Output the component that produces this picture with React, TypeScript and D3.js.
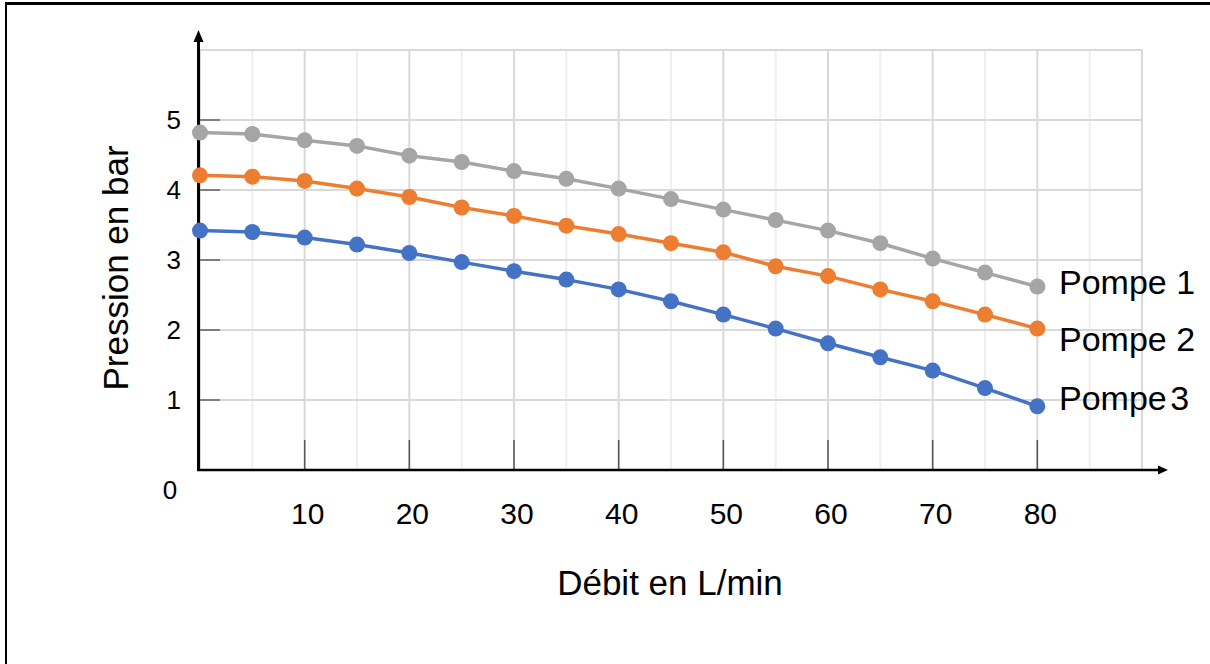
import { useRef, useEffect } from "react";
import * as d3 from "d3";

// Débit (L/min) for each measured point
const debits = [0, 5, 10, 15, 20, 25, 30, 35, 40, 45, 50, 55, 60, 65, 70, 75, 80];

// Pression (bar)
const pompe1 = [4.82, 4.8, 4.71, 4.63, 4.49, 4.4, 4.27, 4.16, 4.02, 3.87, 3.72, 3.57, 3.42, 3.24, 3.02, 2.82, 2.62];
const pompe2 = [4.21, 4.19, 4.13, 4.02, 3.9, 3.75, 3.63, 3.49, 3.37, 3.24, 3.11, 2.91, 2.77, 2.58, 2.41, 2.22, 2.02];
const pompe3 = [3.42, 3.4, 3.32, 3.22, 3.1, 2.97, 2.84, 2.72, 2.58, 2.41, 2.22, 2.02, 1.81, 1.61, 1.42, 1.17, 0.91];

const seriesNames = ["Pompe 1", "Pompe 2", "Pompe 3"];
const seriesColors = ["#a5a5a5", "#ed7d31", "#4472c4"];

const xTickLabels = [10, 20, 30, 40, 50, 60, 70, 80];
const yTickLabels = [1, 2, 3, 4, 5];
const xGridMajor = [0, 10, 20, 30, 40, 50, 60, 70, 80, 90];
const xGridMinor = [5, 15, 25, 35, 45, 55, 65, 75, 85];
const yGrid = [1, 2, 3, 4, 5, 6];

const W = 1210;
const H = 664;
const FONT = "'Liberation Sans', Arial, sans-serif";

export default function App() {
  const svgRef = useRef<SVGSVGElement>(null);

  useEffect(() => {
    if (!svgRef.current) return;
    const svg = d3.select(svgRef.current);
    svg.selectAll("*").remove();

    const x = d3.scaleLinear().domain([0, 90]).range([200, 1142]);
    const y = d3.scaleLinear().domain([0, 6]).range([470, 50]);

    // frame
    svg.append("line").attr("x1", 5).attr("x2", W).attr("y1", 3.5).attr("y2", 3.5)
      .attr("stroke", "#000").attr("stroke-width", 3);
    svg.append("line").attr("x1", 6).attr("x2", 6).attr("y1", 2).attr("y2", H)
      .attr("stroke", "#000").attr("stroke-width", 2);

    const g = svg.append("g");

    // grid
    g.selectAll(".vminor").data(xGridMinor).enter().append("line")
      .attr("x1", (d) => x(d)).attr("x2", (d) => x(d)).attr("y1", y(6)).attr("y2", y(0))
      .attr("stroke", "#efefef").attr("stroke-width", 2);
    g.selectAll(".vmajor").data(xGridMajor).enter().append("line")
      .attr("x1", (d) => x(d)).attr("x2", (d) => x(d)).attr("y1", y(6)).attr("y2", y(0))
      .attr("stroke", "#d9d9d9").attr("stroke-width", 2);
    g.selectAll(".hgrid").data(yGrid).enter().append("line")
      .attr("x1", x(0)).attr("x2", x(90)).attr("y1", (d) => y(d)).attr("y2", (d) => y(d))
      .attr("stroke", "#d9d9d9").attr("stroke-width", 2);

    // x tick marks
    g.selectAll(".xtick").data(xTickLabels).enter().append("line")
      .attr("x1", (d) => x(d)).attr("x2", (d) => x(d)).attr("y1", y(0) - 30).attr("y2", y(0))
      .attr("stroke", "#555").attr("stroke-width", 1.5);
    // y tick marks
    g.selectAll(".ytick").data(yTickLabels).enter().append("line")
      .attr("x1", 198).attr("x2", 220).attr("y1", (d) => y(d)).attr("y2", (d) => y(d))
      .attr("stroke", "#404040").attr("stroke-width", 1.2);

    // axes with arrows
    g.append("line").attr("x1", 197).attr("x2", 1160).attr("y1", y(0)).attr("y2", y(0))
      .attr("stroke", "#000").attr("stroke-width", 2.5);
    g.append("path").attr("d", `M1168,${y(0)} L1158,${y(0) - 4.5} L1158,${y(0) + 4.5} Z`).attr("fill", "#000");
    g.append("line").attr("x1", 198.5).attr("x2", 198.5).attr("y1", y(0) + 1).attr("y2", 40)
      .attr("stroke", "#000").attr("stroke-width", 3);
    g.append("path").attr("d", "M198.5,30 L193.5,42 L203.5,42 Z").attr("fill", "#000");

    // tick labels
    g.selectAll(".xlab").data(xTickLabels).enter().append("text")
      .attr("x", (d) => x(d) + 3).attr("y", 524).attr("text-anchor", "middle")
      .style("font-family", FONT).style("font-size", "30px").style("fill", "#000")
      .text((d) => d);
    g.selectAll(".ylab").data(yTickLabels).enter().append("text")
      .attr("x", 181).attr("y", (d) => y(d)).attr("dy", "0.36em").attr("text-anchor", "end")
      .style("font-family", FONT).style("font-size", "26px").style("fill", "#000")
      .text((d) => d);
    g.append("text").attr("x", 170).attr("y", y(0) + 20).attr("dy", "0.36em").attr("text-anchor", "middle")
      .style("font-family", FONT).style("font-size", "26px").style("fill", "#000")
      .text("0");

    // axis titles
    g.append("text").attr("x", 670).attr("y", 595).attr("text-anchor", "middle")
      .style("font-family", FONT).style("font-size", "35px").style("fill", "#000")
      .text("Débit en L/min");
    g.append("text").attr("transform", "translate(128,268) rotate(-90)").attr("text-anchor", "middle")
      .style("font-family", FONT).style("font-size", "35px").style("fill", "#000")
      .text("Pression en bar");

    // series
    const allSeries = [pompe1, pompe2, pompe3];
    const line = d3.line<number>().x((_, i) => x(debits[i])).y((d) => y(d));
    const labelDy = [7, 22, 4];

    allSeries.forEach((vals, si) => {
      g.append("path").datum(vals).attr("d", line).attr("fill", "none")
        .attr("stroke", seriesColors[si]).attr("stroke-width", 3.5).attr("stroke-linejoin", "round");
      g.selectAll(`.pt${si}`).data(vals).enter().append("circle")
        .attr("cx", (_, i) => x(debits[i])).attr("cy", (d) => y(d)).attr("r", 8)
        .attr("fill", seriesColors[si]);
      const last = vals[vals.length - 1];
      g.append("text").attr("x", 1059).attr("y", y(last) + labelDy[si])
        .style("font-family", FONT).style("font-size", "34px").style("fill", "#000")
        .style("word-spacing", si === 2 ? "-6px" : "0px")
        .text(seriesNames[si]);
    });

    return () => {
      svg.selectAll("*").remove();
    };
  }, []);

  return (
    <div style={{ position: "absolute", left: 0, top: 0, width: W, height: H, background: "#fff" }}>
      <svg ref={svgRef} width={W} height={H} style={{ display: "block" }} />
    </div>
  );
}
